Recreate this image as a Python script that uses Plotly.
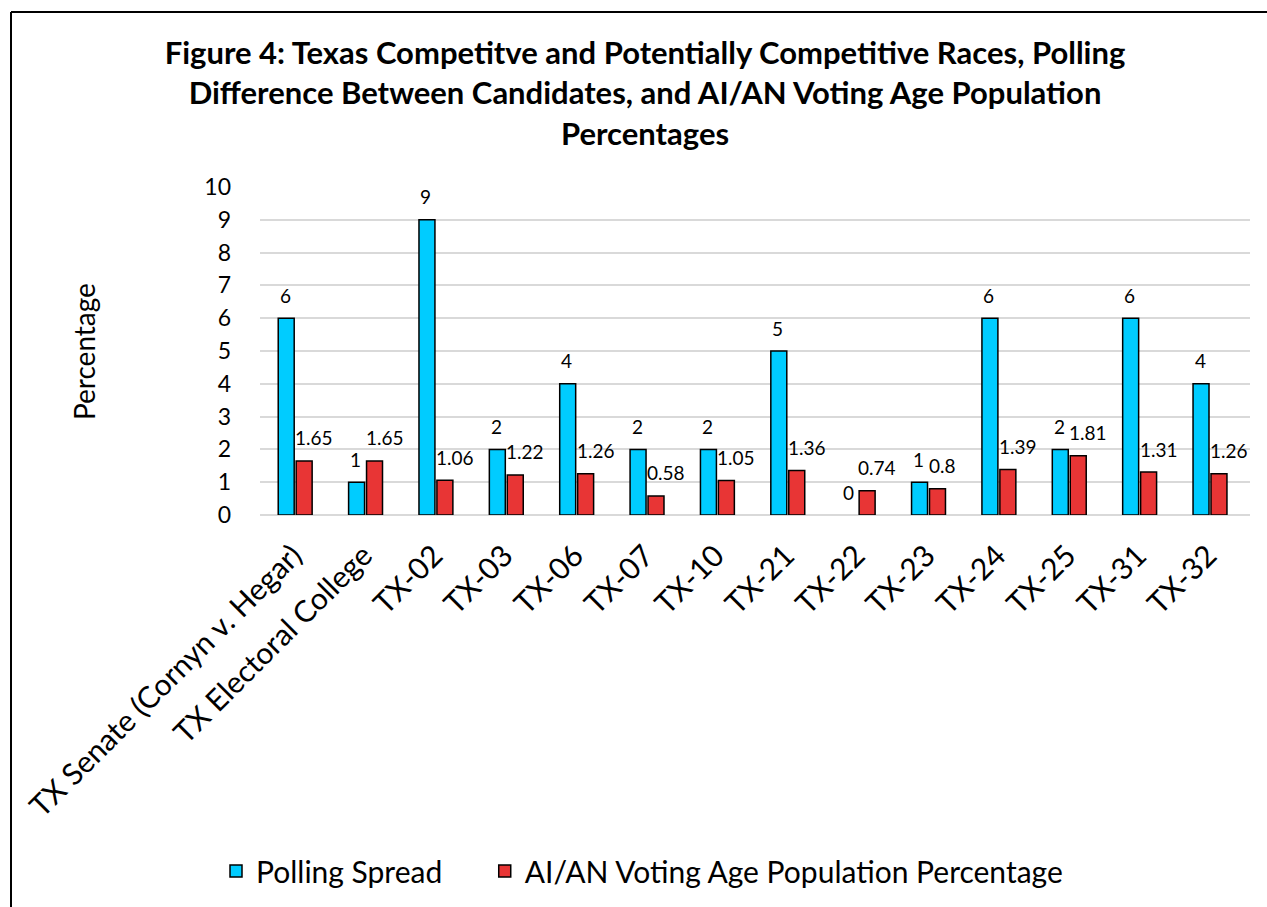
import plotly.graph_objects as go

categories = ["TX Senate (Cornyn v. Hegar)", "TX Electoral College", "TX-02", "TX-03", "TX-06",
              "TX-07", "TX-10", "TX-21", "TX-22", "TX-23", "TX-24", "TX-25", "TX-31", "TX-32"]
polling_spread = [6, 1, 9, 2, 4, 2, 2, 5, 0, 1, 6, 2, 6, 4]
aian_vap = [1.65, 1.65, 1.06, 1.22, 1.26, 0.58, 1.05, 1.36, 0.74, 0.8, 1.39, 1.81, 1.31, 1.26]
y_ticks = [0, 1, 2, 3, 4, 5, 6, 7, 8, 9, 10]

FONT = "Lato"
W, H = 1267, 907
L, R, T, B = 260, 17, 187, 392
pw, ph = W - L - R, H - T - B

fig = go.Figure()
fig.add_trace(go.Bar(
    x=categories, y=polling_spread, name="Polling Spread\u2003\u2002",
    marker=dict(color="#00CCFF",
                line=dict(color="black", width=[1.5 if v else 0 for v in polling_spread])),
))
fig.add_trace(go.Bar(
    x=categories, y=aian_vap, name="AI/AN Voting Age Population Percentage",
    marker=dict(color="#E83535", line=dict(color="black", width=1.5)),
))

# data labels, positioned in data coordinates
for cat, v in zip(categories, polling_spread):
    fig.add_annotation(x=cat, y=v, text=f"{v:g}", showarrow=False, xanchor="center",
                       yanchor="middle", xshift=-10, yshift=23,
                       font=dict(family=FONT, size=19, color="black"))
for cat, v in zip(categories, aian_vap):
    fig.add_annotation(x=cat, y=v, text=f"{v:g}", showarrow=False, xanchor="left",
                       yanchor="middle", xshift=-2, yshift=23,
                       font=dict(family=FONT, size=19, color="black"))

# frame lines (left and top edges of the chart border)
bx = (11 - L) / pw
by = (H - B - 12) / ph
fig.add_shape(type="line", xref="paper", yref="paper", x0=bx, x1=bx, y0=-3, y1=by,
              line=dict(color="black", width=2))
fig.add_shape(type="line", xref="paper", yref="paper", x0=bx, x1=3, y0=by, y1=by,
              line=dict(color="black", width=2))

fig.add_annotation(text="Percentage", xref="paper", yref="paper",
                   x=(65 - L) / pw, y=(H - B - 352) / ph, textangle=-90, showarrow=False,
                   font=dict(family=FONT, size=28, color="black"))

fig.update_layout(
    width=W, height=H,
    margin=dict(l=L, r=R, t=T, b=B, autoexpand=False),
    paper_bgcolor="white", plot_bgcolor="white",
    font=dict(family=FONT, color="black"),
    title=dict(
        text="Figure 4: Texas Competitve and Potentially Competitive Races, Polling<br>Difference Between Candidates, and AI/AN Voting Age Population<br>Percentages",
        x=645 / W, xanchor="center", y=1 - 64 / H, yanchor="middle",
        font=dict(family=FONT, size=31, color="black", weight="bold"),
    ),
    barmode="group", bargap=0.49, bargroupgap=0.11,
    xaxis=dict(tickangle=-45, tickfont=dict(family=FONT, size=30, color="black"),
               showgrid=False, showline=False, ticks="", ticklabelshift=-2,
               ticklabelstandoff=16),
    yaxis=dict(range=[0, 10], tickvals=y_ticks, showgrid=True, gridcolor="#D9D9D9",
               gridwidth=1.5, zeroline=True, zerolinecolor="#D9D9D9", zerolinewidth=1.5,
               tickfont=dict(family=FONT, size=23, color="black"), ticklabelstandoff=28),
    legend=dict(orientation="h", x=(642 - L) / pw, xanchor="center",
                y=(H - B - 871) / ph, yanchor="middle",
                font=dict(family=FONT, size=30, color="black"),
                itemwidth=30, traceorder="normal"),
    showlegend=True,
)

fig.write_html("out.html")
